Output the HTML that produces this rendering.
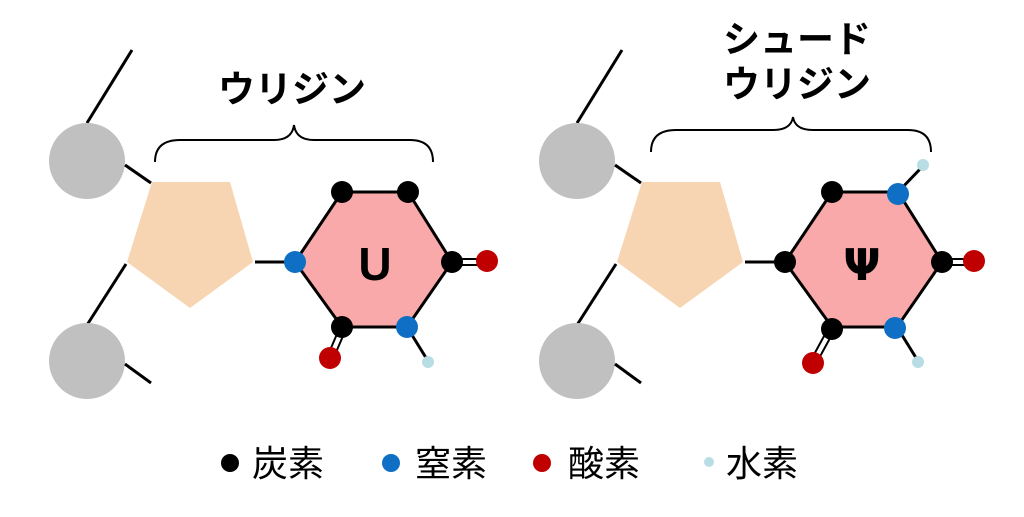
<!DOCTYPE html>
<html><head><meta charset="utf-8"><style>
html,body{margin:0;padding:0;background:#fff;}
svg{display:block;}
</style></head><body>
<svg width="1024" height="517" viewBox="0 0 1024 517" xmlns="http://www.w3.org/2000/svg">
<defs>
<g id="mol">
  <line x1="132" y1="50" x2="87" y2="123" stroke="#000" stroke-width="3"/>
  <circle cx="87" cy="161" r="38" fill="#c0c0c0"/>
  <line x1="125" y1="165" x2="151" y2="183" stroke="#000" stroke-width="3"/>
  <polygon points="152,182 230,182 253,262 190,308 127,262" fill="#f8d5b2"/>
  <line x1="126" y1="264" x2="87" y2="325" stroke="#000" stroke-width="3"/>
  <circle cx="87" cy="361" r="38" fill="#c0c0c0"/>
  <line x1="125" y1="364" x2="151" y2="383" stroke="#000" stroke-width="3"/>
  <line x1="255" y1="262" x2="290" y2="262" stroke="#000" stroke-width="3"/>
  <polygon points="295,262 342,192 408,192 452,262 407,327 342,327" fill="#f9a9aa" stroke="#000" stroke-width="3"/>
</g>
</defs>
<use href="#mol"/>
<g transform="translate(490,0)"><use href="#mol"/></g>

<line x1="452" y1="259" x2="485" y2="259" stroke="#000" stroke-width="2"/>
<line x1="452" y1="265" x2="485" y2="265" stroke="#000" stroke-width="2"/>
<line x1="340" y1="327" x2="328" y2="355" stroke="#000" stroke-width="2"/>
<line x1="346" y1="329" x2="334" y2="357" stroke="#000" stroke-width="2"/>
<line x1="407" y1="327" x2="428" y2="361" stroke="#000" stroke-width="3"/>
<circle cx="295" cy="262" r="11" fill="#0e6fc4"/>
<circle cx="342" cy="192" r="11" fill="#000"/>
<circle cx="408" cy="192" r="11" fill="#000"/>
<circle cx="452" cy="262" r="11" fill="#000"/>
<circle cx="407" cy="327" r="11" fill="#0e6fc4"/>
<circle cx="342" cy="327" r="11" fill="#000"/>
<circle cx="487" cy="261" r="11" fill="#c00000"/>
<circle cx="330" cy="358" r="11" fill="#c00000"/>
<circle cx="428" cy="362" r="6" fill="#b8dde4"/>
<text x="375" y="280" font-family="Liberation Sans, sans-serif" font-weight="bold" font-size="46" text-anchor="middle">U</text>

<line x1="942" y1="259" x2="975" y2="259" stroke="#000" stroke-width="2"/>
<line x1="942" y1="265" x2="975" y2="265" stroke="#000" stroke-width="2"/>
<line x1="829" y1="327" x2="811" y2="360" stroke="#000" stroke-width="2"/>
<line x1="835" y1="329" x2="817" y2="362" stroke="#000" stroke-width="2"/>
<line x1="897" y1="327" x2="918" y2="361" stroke="#000" stroke-width="3"/>
<line x1="898" y1="192" x2="923" y2="166" stroke="#000" stroke-width="3"/>
<circle cx="785" cy="262" r="11" fill="#000"/>
<circle cx="832" cy="192" r="11" fill="#000"/>
<circle cx="898" cy="194" r="11" fill="#0e6fc4"/>
<circle cx="942" cy="262" r="11" fill="#000"/>
<circle cx="895" cy="328" r="11" fill="#0e6fc4"/>
<circle cx="832" cy="329" r="11" fill="#000"/>
<circle cx="974" cy="261" r="11" fill="#c00000"/>
<circle cx="813" cy="363" r="11" fill="#c00000"/>
<circle cx="918" cy="362" r="6" fill="#b8dde4"/>
<circle cx="923" cy="165" r="6" fill="#b8dde4"/>
<text x="862" y="280" font-family="DejaVu Sans, sans-serif" font-weight="bold" font-size="44" text-anchor="middle">Ψ</text>

<path d="M155,162 Q155,140 180,140 L274,140 Q292,140 294,125 Q296,140 314,140 L410,140 Q433,140 433,162" fill="none" stroke="#000" stroke-width="2"/>
<path d="M651,152 Q651,130 676,130 L773,130 Q791,130 793,117 Q795,130 813,130 L908,130 Q931,130 931,152" fill="none" stroke="#000" stroke-width="2"/>

<g font-family="Liberation Sans, 'Noto Sans CJK JP', sans-serif" font-weight="bold" font-size="37" text-anchor="middle">
<text x="292" y="102">ウリジン</text>
<text x="797" y="52">シュード</text>
<text x="797" y="97">ウリジン</text>
</g>

<circle cx="230" cy="463" r="9" fill="#000"/>
<circle cx="391" cy="463" r="9" fill="#0e6fc4"/>
<circle cx="542" cy="463" r="9" fill="#c00000"/>
<circle cx="709" cy="462" r="5" fill="#b8dde4"/>
<g font-family="Liberation Sans, 'Noto Sans CJK JP', sans-serif" font-size="36">
<text x="252" y="476">炭素</text>
<text x="415" y="476">窒素</text>
<text x="568" y="476">酸素</text>
<text x="726" y="476">水素</text>
</g>
</svg>
</body></html>
